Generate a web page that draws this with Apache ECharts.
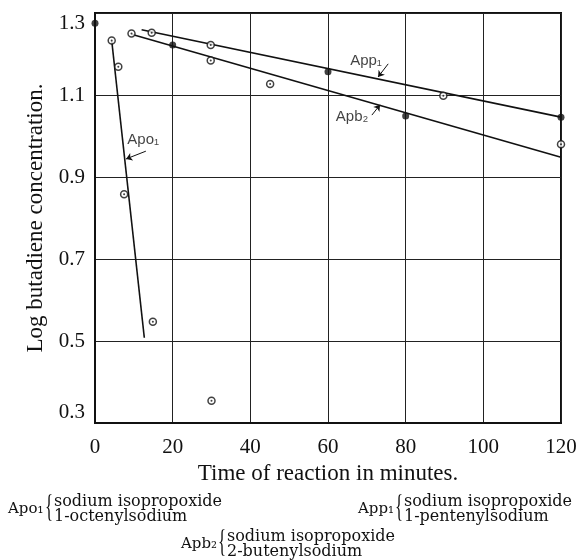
<!DOCTYPE html>
<html><head><meta charset="utf-8">
<script src="https://cdn.jsdelivr.net/npm/echarts@6/dist/echarts.min.js"></script>
<style>html,body{margin:0;padding:0;background:#fff}#c{width:582px;height:560px}</style>
</head><body><div id="c"></div>
<script>
// ---- data ----
const xTickValues = [0, 20, 40, 60, 80, 100, 120];
const yTickValues = [0.3, 0.5, 0.7, 0.9, 1.1, 1.3];
const filledPoints = [[0, 1.275], [20, 1.222], [60, 1.157], [80, 1.049], [120, 1.046]];
const openPoints = [[4.3, 1.233], [6.0, 1.169], [7.5, 0.858], [14.9, 0.547], [30.0, 0.354],
  [9.4, 1.250], [14.6, 1.252], [29.8, 1.222], [29.8, 1.184], [45.1, 1.127], [89.7, 1.098], [120, 0.980]];
const apo1Line = [[4.3, 1.233], [12.7, 0.508]];
const app1Line = [[12.0, 1.259], [120, 1.046]];
const apb2Line = [[9.4, 1.248], [120, 0.948]];
const annotNames = ['Apo₁', 'App₁', 'Apb₂'];
const annotPos = [[12.4, 0.99], [69.8, 1.183], [66.2, 1.046]];
const annotArrows = [[[13.1, 0.963], [8.0, 0.944]], [[75.5, 1.176], [72.9, 1.144]], [[71.3, 1.051], [73.4, 1.076]]];
const legendNames = ['Apo₁', 'App₁', 'Apb₂'];
const legendLine1 = ['sodium isopropoxide', 'sodium isopropoxide', 'sodium isopropoxide'];
const legendLine2 = ['1-octenylsodium', '1-pentenylsodium', '2-butenylsodium'];
const xTitle = 'Time of reaction in minutes.';
const yTitle = 'Log butadiene concentration.';

// ---- layout ----
const legendAnchors = [[8, 502], [358, 502], [181, 537]]; // left x of name, y of first row
const serif = '"Liberation Serif", "DejaVu Serif", serif';
const legFont = '"DejaVu Serif", serif';

const chart = echarts.init(document.getElementById('c'), null, {renderer: 'canvas'});

function legendGraphics() {
  const els = [];
  legendNames.forEach((n, i) => {
    const [x, y] = legendAnchors[i];
    els.push({type: 'text', style: {text: n, x: x, y: y + 7, font: '15px ' + legFont, fill: '#111', textVerticalAlign: 'middle'}});
    const bx = x + 37;
    els.push({type: 'text', x: bx, y: y + 7, scaleX: 0.55,
      style: {text: '{', x: 0, y: 0, font: '31px ' + serif, fill: '#111', textVerticalAlign: 'middle'}});
    els.push({type: 'text', style: {text: legendLine1[i], x: bx + 9, y: y, font: '16px ' + legFont, fill: '#111', textVerticalAlign: 'middle'}});
    els.push({type: 'text', style: {text: legendLine2[i], x: bx + 9, y: y + 15, font: '16px ' + legFont, fill: '#111', textVerticalAlign: 'middle'}});
  });
  return els;
}

const lineStyle = {color: '#111', width: 1.6};
const option = {
  animation: false,
  backgroundColor: '#fff',
  grid: {left: 95, right: 21, top: 13, bottom: 137, show: true, borderColor: '#111', borderWidth: 2, backgroundColor: 'transparent'},
  xAxis: {
    type: 'value', min: 0, max: 120, interval: 20,
    axisLine: {show: true, lineStyle: {color: '#111', width: 2}},
    axisTick: {show: false},
    axisLabel: {margin: 14, color: '#111', fontFamily: serif, fontSize: 21,
      formatter: v => xTickValues.includes(v) ? String(v) : ''},
    splitLine: {show: true, lineStyle: {color: '#222', width: 1}},
    name: xTitle, nameLocation: 'middle', nameGap: 35,
    nameTextStyle: {color: '#111', fontFamily: serif, fontSize: 23}
  },
  yAxis: {
    type: 'value', min: 0.3, max: 1.3, interval: 0.2,
    axisLine: {show: true, lineStyle: {color: '#111', width: 2}},
    axisTick: {show: false},
    axisLabel: {margin: 10, color: '#111', fontFamily: serif, fontSize: 21,
      verticalAlignMaxLabel: 'top', verticalAlignMinLabel: 'bottom',
      formatter: v => {
        const s = v.toFixed(1);
        return yTickValues.some(t => t.toFixed(1) === s) ? s : '';
      }},
    splitLine: {show: true, lineStyle: {color: '#222', width: 1}},
    name: yTitle, nameLocation: 'middle', nameGap: 44,
    nameTextStyle: {color: '#111', fontFamily: serif, fontSize: 23}
  },
  series: [
    {type: 'line', data: apo1Line, symbol: 'none', lineStyle: lineStyle, z: 3},
    {type: 'line', data: app1Line, symbol: 'none', lineStyle: lineStyle, z: 3},
    {type: 'line', data: apb2Line, symbol: 'none', lineStyle: lineStyle, z: 3},
    {type: 'scatter', data: openPoints, symbol: 'circle', symbolSize: 7,
      itemStyle: {color: '#fff', borderColor: '#111', borderWidth: 1.5}, z: 5},
    {type: 'scatter', data: openPoints, symbol: 'circle', symbolSize: 2,
      itemStyle: {color: '#111'}, z: 6},
    {type: 'scatter', data: filledPoints, symbol: 'circle', symbolSize: 7,
      itemStyle: {color: '#111'}, z: 6},
    {type: 'lines', coordinateSystem: 'cartesian2d', symbol: ['none', 'arrow'], symbolSize: 6,
      lineStyle: {color: '#111', width: 1, opacity: 1},
      data: annotArrows.map(c => ({coords: c})), z: 4},
    {type: 'scatter', symbolSize: 1, itemStyle: {color: 'rgba(0,0,0,0)'},
      data: annotNames.map((n, i) => ({name: n, value: annotPos[i]})),
      label: {show: true, position: 'inside', formatter: p => p.name, color: '#111',
        fontFamily: '"Liberation Sans", "DejaVu Sans", sans-serif', fontSize: 15}, z: 7}
  ],
  graphic: legendGraphics()
};
chart.setOption(option);
</script>
</body></html>
